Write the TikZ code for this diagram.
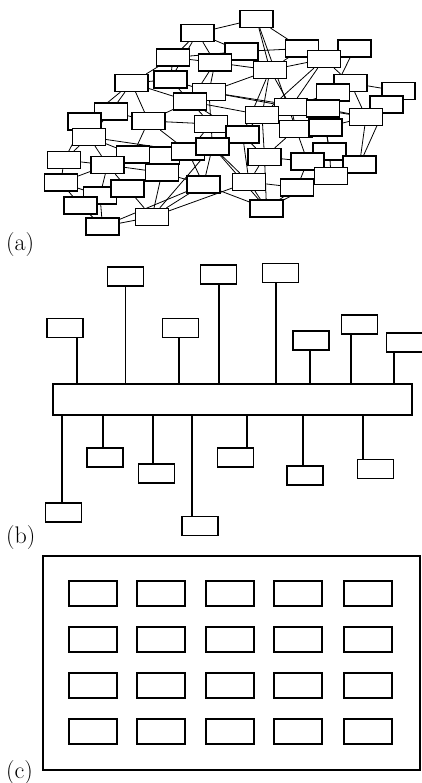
\documentclass[tikz,border=0pt]{standalone}
\usetikzlibrary{backgrounds}
\begin{document}
\begin{tikzpicture}[x=1pt,y=-1pt,
  poste/.style={draw,fill=white,line width=1.2pt,minimum width=33pt,minimum height=17pt,inner sep=0pt},
  station/.style={draw,fill=white,line width=1.2pt,minimum width=36pt,minimum height=19pt,inner sep=0pt},
  salle/.style={draw,line width=1.2pt,minimum width=48pt,minimum height=25pt,inner sep=0pt},
  lien/.style={line width=0.8pt},
  fil/.style={line width=1.1pt},
  lettre/.style={anchor=base west,inner sep=0pt,font=\fontsize{24}{28}\selectfont}]
\useasboundingbox (0,0) rectangle (422,783);
\foreach \n/\x/\y in {1/256.5/19,2/197.5/33,3/241.5/51.5,4/302/48.5,5/354.5/48.5,
  6/173/57.5,7/215/62.5,8/324/59,9/270/70,10/170.5/79.5,11/131.5/83,12/209/92,
  13/350.5/83,14/398.5/91,15/333/92.5,16/190/101.5,17/386.5/104.5,18/111/111.5,
  19/291/107,20/323/108.5,21/262/115,22/366/117,23/148.5/121,24/84.5/121.5,
  25/211/124,26/296/129,27/325.5/127.5,28/242.5/134.5,29/89/137,30/163/155.5,
  31/188/151.5,32/212.5/146.5,33/133/154.5,34/329.5/151.5,35/264.5/157,36/64/160,
  37/307.5/161.5,38/359.5/164.5,39/107.5/165,40/162/172.5,41/331/176,42/61/182.5,
  43/203.5/184.5,44/249/182,45/297/187.5,46/100/195.5,47/80.5/205.5,48/266.5/208.5,
  49/152/217,50/102.5/226.5,51/127.5/188.5}
  \node[poste] (a\n) at (\x,\y) {};
\begin{pgfonlayer}{background}
\foreach \u/\v in {1/2,1/4,1/9,1/26,2/3,2/7,2/10,2/6,3/4,3/9,3/6,4/8,4/9,5/8,5/15,
  6/11,6/7,6/10,7/12,7/9,7/16,8/9,8/13,8/21,8/19,9/12,9/19,9/21,9/28,10/16,10/11,
  10/12,11/18,11/24,11/16,11/23,12/16,12/25,12/22,12/19,13/14,13/15,13/22,14/17,
  14/22,15/19,15/20,15/27,16/23,16/21,16/28,16/25,17/22,17/38,18/24,18/23,18/29,
  19/20,19/26,19/21,20/27,20/22,20/34,21/28,21/26,21/35,22/27,22/38,23/25,23/33,
  23/31,24/29,24/36,25/28,25/32,25/31,26/27,26/37,26/35,27/34,28/32,28/35,28/44,
  29/33,29/36,29/39,29/31,30/40,31/32,31/43,31/40,32/44,32/43,32/48,32/49,33/39,
  33/40,33/30,34/37,34/38,34/41,35/37,35/44,35/48,36/42,36/39,37/41,37/45,38/41,
  38/45,39/42,39/46,39/51,39/40,40/51,40/43,40/49,41/45,41/48,42/47,42/46,43/49,
  43/48,43/50,44/45,44/48,44/49,45/48,46/47,46/51,46/50,47/50,49/50,49/51}
  \draw[lien] (a\u) -- (a\v);
\end{pgfonlayer}
\node[lettre] (la) at (6,251) {(a)};
\node[draw,line width=1.2pt,minimum width=359pt,minimum height=31pt,inner sep=0pt] (bus) at (232.5,399.5) {};
\foreach \n/\x/\y/\d in {1/65/328/12,2/125.5/276.5/0,3/180.5/328/-1.5,4/218.5/274.5/0.5,
  5/280.5/273/-4.5,6/311/340.5/-1,7/359.5/324.5/-8.5,8/404.5/342.5/-10.5}
  {\node[station] (h\n) at (\x,\y) {};
   \draw[fil] ([xshift=\d pt]h\n.south) -- ([xshift=\d pt]h\n.south |- bus.north);}
\foreach \n/\x/\y/\d in {1/63.5/512.5/-1.5,2/105/457.5/-2,3/156.5/473.5/-3.5,4/200/526/-8,
  5/235.5/457.5/11.5,6/305/475.5/-2,7/375.5/469/-12.5}
  {\node[station] (b\n) at (\x,\y) {};
   \draw[fil] ([xshift=\d pt]b\n.north) -- ([xshift=\d pt]b\n.north |- bus.south);}
\node[lettre] (lb) at (6,543) {(b)};
\node[draw,line width=1.3pt,minimum width=377pt,minimum height=214pt,inner sep=0pt] (cadre) at (231.5,663) {};
\foreach \i/\x in {1/93,2/161,3/230,4/298,5/368}
  \foreach \j/\y in {1/593.5,2/639.5,3/685.5,4/731.5}
    \node[salle] (c\i\j) at (\x,\y) {};
\node[lettre] (lc) at (6,778) {(c)};
\end{tikzpicture}
\end{document}
